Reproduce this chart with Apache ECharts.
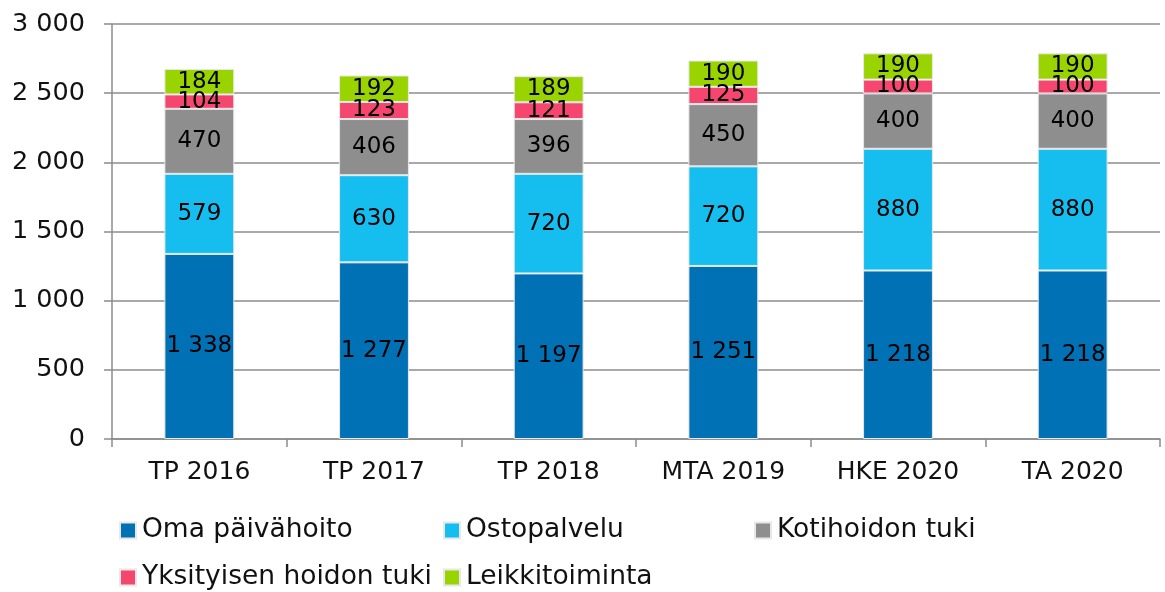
<!DOCTYPE html>
<html><head><meta charset="utf-8">
<script src="https://cdn.jsdelivr.net/npm/echarts@6/dist/echarts.min.js"></script>
<style>html,body{margin:0;padding:0;background:#fff}#c{width:1165px;height:592px}</style>
</head><body><div id="c"></div>
<script>
const categories = ['TP 2016','TP 2017','TP 2018','MTA 2019','HKE 2020','TA 2020'];
const seriesNames = ['Oma päivähoito','Ostopalvelu','Kotihoidon tuki','Yksityisen hoidon tuki','Leikkitoiminta'];
const omaPaivahoito = [1338,1277,1197,1251,1218,1218];
const ostopalvelu = [579,630,720,720,880,880];
const kotihoidonTuki = [470,406,396,450,400,400];
const yksityisenHoidonTuki = [104,123,121,125,100,100];
const leikkitoiminta = [184,192,189,190,190,190];
const colors = ['#0071b5','#16bef0','#8e8e8e','#f4466e','#99d400'];

const FONT = 'DejaVu Sans';
const fmt = v => String(v).replace(/\B(?=(\d{3})+(?!\d))/g, ' ');
const values = [omaPaivahoito, ostopalvelu, kotihoidonTuki, yksityisenHoidonTuki, leikkitoiminta];

// legend grid placement: [left, top] per series
const legendPos = [[119, 517], [443, 517], [754, 517], [119, 564], [443, 564]];

const chart = echarts.init(document.getElementById('c'));
chart.setOption({
  animation: false,
  grid: {left: 112, right: 5, top: 24, bottom: 153, containLabel: false},
  legend: seriesNames.map((n, i) => ({
    data: [n], left: legendPos[i][0], top: legendPos[i][1], padding: 0,
    itemWidth: 16, itemHeight: 16, icon: 'rect', itemGap: 0,
    textStyle: {fontFamily: FONT, fontSize: 26.5, color: '#111', padding: [0, 0, 0, 1]}
  })),
  xAxis: {
    type: 'category', data: categories,
    axisLine: {lineStyle: {color: '#8c8c8c', width: 1.5}},
    axisTick: {show: true, length: 8, lineStyle: {color: '#8c8c8c', width: 1.5}},
    axisLabel: {fontFamily: FONT, fontSize: 25, color: '#111', margin: 21}
  },
  yAxis: {
    type: 'value', min: 0, max: 3000, interval: 500,
    axisLine: {show: true, lineStyle: {color: '#8c8c8c', width: 1.5}},
    axisTick: {show: true, length: 8, lineStyle: {color: '#8c8c8c', width: 1.5}},
    splitLine: {lineStyle: {color: '#8c8c8c', width: 1.5}},
    axisLabel: {fontFamily: FONT, fontSize: 25.5, color: '#111', margin: 27, formatter: v => fmt(v)}
  },
  series: seriesNames.map((n, i) => ({
    name: n, type: 'bar', stack: 'total', data: values[i], barWidth: '40%',
    itemStyle: {color: colors[i], borderColor: '#e8e8e8', borderWidth: 1},
    label: {show: true, position: 'inside', fontFamily: FONT, fontSize: 23, color: '#000',
      formatter: p => fmt(p.value)}
  }))
});
</script></body></html>
